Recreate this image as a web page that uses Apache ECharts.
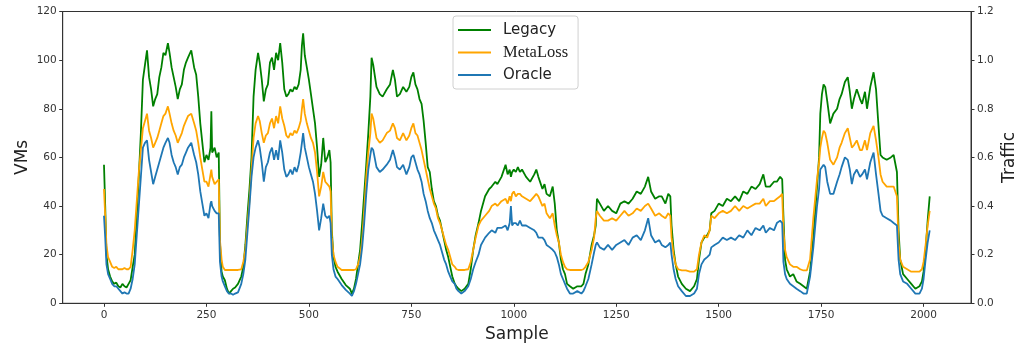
<!DOCTYPE html>
<html>
<head>
<meta charset="utf-8">
<script src="https://cdn.jsdelivr.net/npm/echarts@6/dist/echarts.min.js"></script>
<style>
html,body{margin:0;padding:0;background:#fff;}
#chart{width:1018px;height:347px;}
</style>
</head>
<body>
<div id="chart"></div>
<script>
const samples = [
0,3,6,10,15,20,25,30,35,40,
45,50,55,60,65,70,75,80,85,90,
95,100,105,110,115,120,125,130,135,140,
145,150,156,160,165,170,175,180,185,190,
195,200,205,213,220,225,230,235,240,245,
250,255,260,262,264,270,275,280,283,287,
290,295,300,305,310,315,320,327,335,340,
345,350,355,360,365,370,376,380,385,390,
395,400,405,410,415,420,425,430,435,440,
445,450,455,460,465,470,475,480,483,486,
490,495,500,505,510,515,520,525,530,535,
540,545,550,553,556,560,565,570,580,590,
600,605,610,615,620,625,630,635,640,645,
650,653,657,665,673,680,690,698,705,710,
715,722,730,738,745,750,755,760,765,770,
775,780,785,790,795,800,805,810,815,820,
825,830,835,840,845,850,856,860,865,872,
880,889,895,901,907,914,920,930,940,946,
955,960,970,980,985,990,993,996,1000,1005,
1010,1015,1020,1030,1040,1050,1055,1060,1070,1075,
1080,1088,1095,1100,1105,1110,1115,1120,1125,1130,
1137,1145,1155,1165,1170,1175,1182,1190,1196,1200,
1203,1210,1220,1230,1240,1250,1260,1270,1280,1290,
1300,1310,1320,1328,1335,1345,1355,1361,1370,1377,
1382,1385,1390,1395,1401,1410,1420,1430,1440,1447,
1452,1458,1465,1472,1478,1482,1490,1500,1510,1520,
1530,1540,1550,1560,1570,1580,1590,1600,1609,1615,
1625,1635,1642,1650,1655,1658,1662,1666,1674,1682,
1690,1699,1707,1715,1723,1731,1740,1745,1748,1752,
1756,1760,1765,1772,1780,1789,1795,1800,1808,1815,
1820,1825,1830,1837,1845,1850,1857,1862,1870,1878,
1884,1890,1895,1900,1910,1920,1927,1935,1939,1943,
1950,1960,1970,1980,1990,1996,2000,2005,2010,2015
];
const legacy = [
57,40,20,14,11,9,8,8.5,7,6.5,
8,7,6.5,8,9.5,15,20,36,52,70,
92,98,104,93,88,81,84,86,93,97,
103,102,107,103,97,93,89,84,88,90,
96,99,101,104,97,94,85,74,66,58,
61,59,64,79,62,64,60,62,25,13,
11,9.5,6,4,5,6,6.5,8,11,15,
24,36,47,60,85,96,103,99,92,83,
88,90,99,101,96,103,100,107,99,88,
85,86,88,87,89,88,90,96,106,111,
102,97,92,86,80,74,64,52,57,68,
58,60,63,58,30,19,15,13,10,7.5,
6,4,6,10,16,22,33,45,57,70,
85,101,98,89,86,85,88,90,96,92,
85,86,89,87,89,93,95,90,88,84,
82,75,66,56,54,47,42,40,36,34,
30,26,22,19,15,11,8,7,6,5,
6,8,14,22,28,33,38,44,47,48,
50,49,52,57,53,55,52,54,55,54,
56,54,55,52,50,53,55,52,47,49,
45,44,48,41,30,25,18,14,12,8,
7,6,7,7,8,12,16,24,28,32,
43,41,38,40,38,37,41,42,41,43,
46,45,48,52,46,43,44,44,41,45,
44,32,22,16,11,8,6,5,7,10,
18,25,27,28,30,37,38,41,40,43,
42,44,42,46,45,48,47,49,53,48,
48,50,50,52,51,36,18,14,11,12,
9,8,7,6,13,27,48,60,78,86,
90,89,83,74,78,80,84,86,91,93,
87,80,84,88,84,82,87,80,89,95,
88,73,61,60,59,60,61,54,30,18,
12,10,8,6,7,9,13,22,34,44
];
const metaloss = [
47,36,24,19,17,15,14.5,15,14,14,
14,14.5,14,14,15,22,30,42,54,63,
72,75,78,71,68,64,66,68,71,74,
77,78,81,78,74,71,69,66,68,70,
73,75,77,78,74,71,66,60,55,50,
50,48,53,55,52,49,50,51,26,18,
15,13.7,13.7,13.7,13.7,13.7,13.7,13.7,14,17,
22,32,42,55,68,74,77,75,70,66,
69,70,74,76,72,77,74,81,76,73,
69,68,70,69,71,70,72,75,80,84,
78,74,71,68,66,62,54,44,48,54,
50,49,48,46,27,20,17,15,13.7,13.7,
13.7,13.7,13.7,14,16,19,26,38,52,62,
70,78,76,68,66,67,70,71,74,72,
68,67,70,67,69,72,74,70,69,66,
63,59,55,51,47,44,41,39,35,33,
30,27,24,22,19,16,15,14,13.7,13.7,
13.7,14,17,22,27,32,34,36,38,40,
41,40,42,43,41,44,42,45,46,44,
45,45,44,43,42,44,45,44,40,41,
37,35,37,32,28,25,20,17,15,14,
13.7,13.7,13.7,13.7,14,15,17,22,27,35,
38,36,34,34,35,34,36,38,36,37,
39,38,40,41,39,36,37,36,35,37,
36,27,20,16,14,13.5,13.5,13,13,14,
20,25,28,27,30,36,35,37,38,37,
38,40,38,40,39,40,41,41,43,40,
42,42,43,44,45,30,22,19,16,15,
15,14,13.5,13.5,18,35,51,58,64,68,
71,70,66,59,57,60,64,66,70,72,
68,64,65,67,63,63,67,63,70,73,
67,60,53,50,48,48,48,44,25,18,
15,14,13,13,13,14,17,24,32,38
];
const oracle = [
36,27,16,12,10,8,7,7,6,5,
4,4.5,4,4,6,10,16,28,40,52,
64,66,67,59,54,49,52,55,58,61,
64,66,68,66,61,58,56,53,56,57,
60,62,64,66,61,58,53,46,41,36,
37,35,41,42,40,38,37,37,17,11,
9,7,5,4,4,3.5,4,4.5,8,12,
18,29,40,52,60,64,67,64,58,50,
56,58,62,64,59,63,59,67,62,55,
52,53,55,53,56,54,57,62,66,70,
64,60,56,53,50,45,38,30,35,41,
36,35,36,33,20,14,11,10,7.5,5.5,
4,3,5,8,12,16,23,33,45,55,
61,64,63,56,54,55,57,59,63,60,
56,55,57,53,56,60,61,58,55,53,
50,45,42,38,35,33,30,28,26,24,
21,18,16,13,11,9,8,6,5,4,
5,7,10,14,17,20,24,27,29,30,
29,31,31,32,30,33,40,32,33,33,
32,34,32,32,31,30,29,27,27,26,
24,23,22,21,19,16,12,10,8,6,
4,4,5,4,5,7,10,16,21,24,
25,23,22,24,22,24,25,26,24,27,
28,26,30,35,28,25,26,24,23,24,
25,20,14,10,7,5,3,3,4,6,
12,16,18,19,20,23,24,25,27,26,
27,26,28,27,30,28,31,30,32,29,
31,30,33,34,33,17,12,10,8,7,
6,5,4,4,11,23,40,47,55,55,
57,56,50,45,45,50,53,56,60,59,
55,49,53,55,52,53,55,51,58,62,
53,45,38,36,35,34,33,32,18,12,
9,8,6,4,4,6,10,18,25,30
];
const xTicks = [0,250,500,750,1000,1250,1500,1750,2000];
const seriesNames = ['Legacy','MetaLoss','Oracle'];
const seriesColors = ['#008000','#FFA500','#1f77b4'];
const seriesValues = [legacy, metaloss, oracle];

const chart = echarts.init(document.getElementById('chart'), null, {renderer:'canvas'});
const axisCol = '#333';
const font = 'DejaVu Sans';
chart.setOption({
  animation:false,
  backgroundColor:'#fff',
  grid:{left:62.7, right:47, top:11.5, bottom:43.7, show:true, borderColor:axisCol, borderWidth:1,
        containLabel:false, outerBoundsMode:'none'},
  legend:{
    orient:'vertical', left:453, top:16,
    icon:'rect', itemWidth:33, itemHeight:2, itemGap:6.5,
    padding:[6.5,10,6.5,5],
    borderColor:'#d0d0d0', borderWidth:1, borderRadius:3,
    backgroundColor:'rgba(255,255,255,0.85)',
    data:seriesNames,
    formatter:function(n){ return n==='MetaLoss' ? '{s|'+n+'}' : '{n|'+n+'}'; },
    textStyle:{
      padding:[0,0,0,7],
      rich:{
        n:{fontFamily:font, fontSize:15, color:'#222', lineHeight:17},
        s:{fontFamily:'Liberation Serif', fontSize:16.5, color:'#222', lineHeight:17}
      }
    }
  },
  xAxis:{
    type:'value', min:-100.75, max:2115.75,
    name:'Sample', nameLocation:'middle', nameGap:23, nameMoveOverlap:false,
    nameTextStyle:{fontFamily:font, fontSize:17, color:'#222'},
    axisLine:{show:true, onZero:false, lineStyle:{color:axisCol, width:1}},
    axisTick:{show:true, inside:false, length:3.5, lineStyle:{color:axisCol}, customValues:xTicks},
    axisLabel:{show:true, margin:6, fontFamily:font, fontSize:10.5, color:'#333', customValues:xTicks,
      formatter:function(v){ return String(Math.round(v)); }},
    splitLine:{show:false}
  },
  yAxis:[{
    type:'value', position:'left', min:0, max:120, interval:20,
    name:'VMs', nameLocation:'middle', nameGap:32, nameRotate:90, nameMoveOverlap:false,
    nameTextStyle:{fontFamily:font, fontSize:17, color:'#222'},
    axisLine:{show:true, onZero:false, lineStyle:{color:axisCol, width:1}},
    axisTick:{show:true, inside:false, length:3.5, lineStyle:{color:axisCol}},
    axisLabel:{margin:6, fontFamily:font, fontSize:10.5, color:'#333'},
    splitLine:{show:false}
  },{
    type:'value', position:'right', min:0, max:1.2, interval:0.2,
    name:'Traffic', nameLocation:'middle', nameGap:30, nameRotate:90, nameMoveOverlap:false,
    nameTextStyle:{fontFamily:font, fontSize:17, color:'#222'},
    axisLine:{show:true, onZero:false, lineStyle:{color:axisCol, width:1}},
    axisTick:{show:true, inside:false, length:3.5, lineStyle:{color:axisCol}},
    axisLabel:{margin:6, fontFamily:font, fontSize:10.5, color:'#333', formatter:function(v){return v.toFixed(1);}},
    splitLine:{show:false}
  }],
  series: seriesNames.map(function(name, k){
    return {
      name:name, type:'line', yAxisIndex:0,
      data: samples.map(function(s,i){ return [s, seriesValues[k][i]]; }),
      symbol:'none', showSymbol:false, sampling:'none',
      lineStyle:{color:seriesColors[k], width:1.8},
      itemStyle:{color:seriesColors[k]},
      z: 2+k
    };
  })
});
</script>
</body>
</html>
